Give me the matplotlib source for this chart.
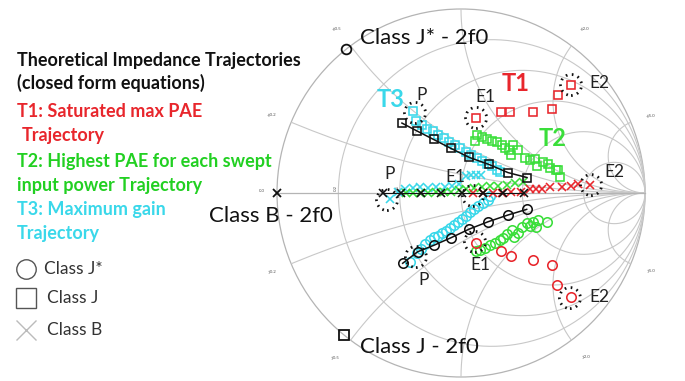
import numpy as np
import matplotlib
matplotlib.use("Agg")
import matplotlib.pyplot as plt
from matplotlib.patches import Circle

plt.rcParams['font.family'] = ['Lato', 'DejaVu Sans']

# ---------------- data (reflection coefficient, real / imag) ----------------
# Class J (squares)
classJ_re = [-0.321, -0.239, -0.149, -0.054, 0.046, 0.152, 0.255, 0.359]
classJ_im = [0.380, 0.337, 0.291, 0.242, 0.193, 0.155, 0.111, 0.084]
# Class J* (circles)
classJs_re = [-0.317, -0.235, -0.147, -0.054, 0.045, 0.148, 0.254, 0.357]
classJs_im = [-0.382, -0.319, -0.284, -0.243, -0.196, -0.156, -0.120, -0.089]
# Class B (crosses)
classB_re = [-0.424, -0.326, -0.217, -0.109, 0.005, 0.120, 0.228, 0.342]
classB_im = [0.0, 0.0, 0.0, 0.0, 0.0, 0.0, 0.0, 0.0]

# T1 (red)
t1_sq_re = [0.082, 0.217, 0.269, 0.391, 0.495, 0.527, 0.598]
t1_sq_im = [0.408, 0.440, 0.440, 0.440, 0.454, 0.533, 0.587]
t1_ci_re = [0.080, 0.216, 0.270, 0.393, 0.495, 0.523, 0.596]
t1_ci_im = [-0.270, -0.315, -0.342, -0.363, -0.393, -0.498, -0.567]
t1_x_re = [0.065, 0.120, 0.174, 0.223, 0.272, 0.326, 0.375, 0.408, 0.440, 0.484, 0.549, 0.598, 0.636, 0.701]
t1_x_im = [0.0, 0.0, 0.0, 0.0, 0.003, 0.003, 0.022, 0.022, 0.022, 0.030, 0.030, 0.038, 0.049, 0.043]

# T2 (green)
t2_sq_re = [0.076, 0.087, 0.114, 0.141, 0.168, 0.196, 0.223, 0.239, 0.261, 0.272, 0.283,
            0.310, 0.348, 0.375, 0.402, 0.413, 0.446, 0.473, 0.484, 0.516, 0.527, 0.538]
t2_sq_im = [0.280, 0.315, 0.304, 0.293, 0.283, 0.277, 0.261, 0.245, 0.234, 0.207, 0.261,
            0.234, 0.190, 0.179, 0.185, 0.147, 0.168, 0.158, 0.136, 0.125, 0.125, 0.087]
t2_ci_re = [0.082, 0.103, 0.130, 0.158, 0.185, 0.212, 0.228, 0.250, 0.277, 0.288, 0.310,
            0.332, 0.359, 0.375, 0.391, 0.408, 0.418, 0.467]
t2_ci_im = [-0.315, -0.310, -0.299, -0.283, -0.272, -0.255, -0.245, -0.223, -0.201, -0.239,
            -0.217, -0.185, -0.163, -0.179, -0.158, -0.185, -0.147, -0.158]
t2_x_re = [-0.299, -0.261, -0.223, -0.179, -0.136, -0.092, -0.054, -0.011, 0.027, 0.071,
           0.114, 0.158, 0.201, 0.250, 0.293, 0.337]
t2_x_im = [0.0, 0.0, 0.0, 0.0, 0.003, 0.005, 0.008, 0.016, 0.022, 0.027, 0.033, 0.038,
           0.038, 0.043, 0.054, 0.060]

# T3 (cyan)
t3_sq_re = [-0.261, -0.245, -0.212, -0.185, -0.152, -0.125, -0.092, -0.065, -0.033, -0.005,
            0.027, 0.054, 0.087, 0.114, 0.141, 0.168, 0.196, 0.212]
t3_sq_im = [0.446, 0.391, 0.370, 0.348, 0.337, 0.315, 0.299, 0.277, 0.261, 0.245,
            0.223, 0.207, 0.190, 0.174, 0.158, 0.147, 0.125, 0.114]
t3_ci_re = [-0.277, -0.239, -0.217, -0.196, -0.168, -0.147, -0.125, -0.103, -0.082, -0.060,
            -0.038, -0.016, 0.005, 0.027, 0.049, 0.071, 0.092, 0.120, 0.147, 0.158]
t3_ci_im = [-0.375, -0.326, -0.304, -0.277, -0.255, -0.239, -0.234, -0.217, -0.207, -0.190,
            -0.174, -0.158, -0.141, -0.125, -0.103, -0.087, -0.071, -0.054, -0.038, -0.016]
t3_x_re = [-0.386, -0.342, -0.304, -0.261, -0.223, -0.179, -0.136, -0.087, -0.049, -0.011,
           0.027, 0.054, 0.082, 0.109]
t3_x_im = [-0.033, 0.005, 0.022, 0.027, 0.033, 0.027, 0.033, 0.033, 0.038, 0.049,
           0.092, 0.098, 0.098, 0.098]

# highlighted points (P, E1, E2) for squares / crosses / circles
hl_labels = ["P", "E1", "E2", "P", "E1", "E2", "P", "E1", "E2"]
hl_re = [-0.250, 0.082, 0.598, -0.402, 0.065, 0.707, -0.245, 0.076, 0.592]
hl_im = [0.435, 0.408, 0.587, -0.038, -0.016, 0.043, -0.348, -0.266, -0.571]

# 2f0 terminations
f2_labels = ["Class J* - 2f0", "Class B - 2f0", "Class J - 2f0"]
f2_re = [-0.625, -1.0, -0.636]
f2_im = [0.783, 0.0, -0.772]

# Smith grid values
r_vals = [0.2, 0.5, 1.0, 2.0, 5.0]
x_vals = [0.2, 0.5, 1.0, 2.0, 5.0]
x_tick_labels = ["+j0.2", "+j0.5", "+j2.0", "+j5.0", "-j0.2", "-j0.5", "-j2.0", "-j5.0", "0.0"]

# ---------------- figure ----------------
W, H = 685, 381
CX, CY, RAD = 461, 193, 184
fig = plt.figure(figsize=(W / 100, H / 100), dpi=100)
ax = fig.add_axes([0, 0, 1, 1])
ax.set_xlim(-CX / RAD, (W - CX) / RAD)
ax.set_ylim((CY - H) / RAD, CY / RAD)
ax.set_aspect('equal')
ax.axis('off')


def P(x, y):
    return (x - CX) / RAD, (CY - y) / RAD


grid_c = '#c8c8c8'
unit = Circle((0, 0), 1, facecolor='none', edgecolor='#b4b4b4', lw=0.9, zorder=1)
ax.add_patch(unit)
clip = Circle((0, 0), 1, transform=ax.transData)
t = np.linspace(0, 2 * np.pi, 600)
for r in r_vals:
    c, rr = r / (1 + r), 1 / (1 + r)
    ax.plot(c + rr * np.cos(t), rr * np.sin(t), color=grid_c, lw=0.8, zorder=1)
for x in x_vals:
    for s in (1, -1):
        ln, = ax.plot(1 + (1 / x) * np.cos(t), s / x + (1 / x) * np.sin(t),
                      color=grid_c, lw=0.8, zorder=1)
        ln.set_clip_path(clip)
ax.plot([-1, 1], [0, 0], color='#b4b4b4', lw=0.9, zorder=1)

# tiny chart labels
tiny = dict(fontsize=3.2, color='#555555', ha='center', va='center')
tiny_pos = [(272, 115), (337, 29), (585, 29), (651, 116), (272, 272), (335, 358),
            (586, 357), (651, 271), (262, 191)]
for lab, (px_, py_) in zip(x_tick_labels, tiny_pos):
    ax.text(*P(px_, py_), lab, **tiny)
ax.text(*P(336, 188), "0.2", rotation=90, **tiny)
ax.text(*P(398, 188), "0.5", rotation=90, **tiny)

RED = '#e8262c'
GREEN = '#3ade3a'
CYAN = '#3ad8ea'

mk = dict(linestyle='none', markerfacecolor='none', markeredgewidth=1.15)
SQ, CI, XX = 6.0, 6.8, 5.8
# T3
ax.plot(t3_sq_re, t3_sq_im, marker='s', ms=SQ, markeredgecolor=CYAN, zorder=3, **mk)
ax.plot(t3_ci_re, t3_ci_im, marker='o', ms=CI, markeredgecolor=CYAN, zorder=3, **mk)
ax.plot(t3_x_re, t3_x_im, marker='x', ms=XX, markeredgecolor=CYAN, zorder=3, **mk)
# T2
ax.plot(t2_sq_re, t2_sq_im, marker='s', ms=SQ, markeredgecolor=GREEN, zorder=3, **mk)
ax.plot(t2_ci_re, t2_ci_im, marker='o', ms=CI, markeredgecolor=GREEN, zorder=3, **mk)
ax.plot(t2_x_re, t2_x_im, marker='x', ms=XX, markeredgecolor=GREEN, zorder=3, **mk)
# T1
ax.plot(t1_sq_re, t1_sq_im, marker='s', ms=SQ, markeredgecolor=RED, zorder=3, **mk)
ax.plot(t1_ci_re, t1_ci_im, marker='o', ms=CI, markeredgecolor=RED, zorder=3, **mk)
ax.plot(t1_x_re, t1_x_im, marker='x', ms=XX, markeredgecolor=RED, zorder=3, **mk)

# Theoretical classes (black)
ax.plot(classJ_re, classJ_im, color='#111111', lw=1.1, marker='s', ms=SQ,
        markerfacecolor='none', markeredgecolor='#111111', markeredgewidth=1.15, zorder=4)
ax.plot(classJs_re, classJs_im, color='#111111', lw=1.1, marker='o', ms=CI,
        markerfacecolor='none', markeredgecolor='#111111', markeredgewidth=1.15, zorder=4)
ax.plot(classB_re, classB_im, color='#111111', lw=0.8, marker='x', ms=XX,
        markeredgecolor='#111111', markeredgewidth=1.15, zorder=4)

# highlight dotted circles
for re_, im_ in zip(hl_re, hl_im):
    ax.add_patch(Circle((re_, im_), 10.5 / RAD, facecolor='none', edgecolor='#111111',
                        lw=2.0, linestyle=(0, (0.6, 1.6)), zorder=5))

lbl_pos = [(422, 95), (485, 97), (599, 83), (390, 174), (455, 177), (614, 172),
           (424, 280), (480, 265), (599, 297)]
for lab, (px_, py_) in zip(hl_labels, lbl_pos):
    ax.text(*P(px_, py_), lab, fontsize=12.5, color='#222222', ha='center', va='center', zorder=6)

# trajectory labels
ax.text(*P(391, 99), "T3", fontsize=17, fontweight='bold', color=CYAN, ha='center', va='center')
ax.text(*P(516, 83), "T1", fontsize=17, fontweight='bold', color=RED, ha='center', va='center')
ax.text(*P(553, 138), "T2", fontsize=17, fontweight='bold', color=GREEN, ha='center', va='center')

# 2f0 points
f2_mk = ['o', 'x', 's']
for (re_, im_, m) in zip(f2_re, f2_im, f2_mk):
    ax.plot([re_], [im_], marker=m, ms=7 if m != 'x' else 6, markerfacecolor='none',
            markeredgecolor='#111111', markeredgewidth=1.3, linestyle='none', zorder=5)
f2_txt_pos = [(360, 38, 'left'), (333, 216, 'right'), (360, 347, 'left')]
for lab, (px_, py_, ha) in zip(f2_labels, f2_txt_pos):
    ax.text(*P(px_, py_), lab, fontsize=16, color='#111111', ha=ha, va='center', zorder=6)

# left text block
lines = [
    ("Theoretical Impedance Trajectories", '#111111', 17, 60),
    ("(closed form equations)", '#111111', 17, 83),
    ("T1: Saturated max PAE", RED, 17, 111),
    ("Trajectory", RED, 22, 135),
    ("T2: Highest PAE for each swept", '#22d022', 17, 161),
    ("input power Trajectory", '#22d022', 17, 185),
    ("T3: Maximum gain", CYAN, 17, 209),
    ("Trajectory", CYAN, 17, 233),
]
for txt, col, px_, py_ in lines:
    ax.text(*P(px_, py_), txt, fontsize=13, fontweight='bold', color=col,
            ha='left', va='center')

# legend
leg = [("Class J*", 'o', 269, 44), ("Class J", 's', 298, 47), ("Class B", 'x', 330, 47)]
for lab, m, py_, tx in leg:
    ax.plot(*P(26, py_), marker=m, ms=14 if m != 'x' else 15, markerfacecolor='none',
            markeredgecolor='#555555' if m != 'x' else '#bbbbbb', markeredgewidth=1.0,
            linestyle='none')
    ax.text(*P(tx, py_), lab, fontsize=12.5, color='#333333', ha='left', va='center')

fig.savefig("out.png", dpi=100)
